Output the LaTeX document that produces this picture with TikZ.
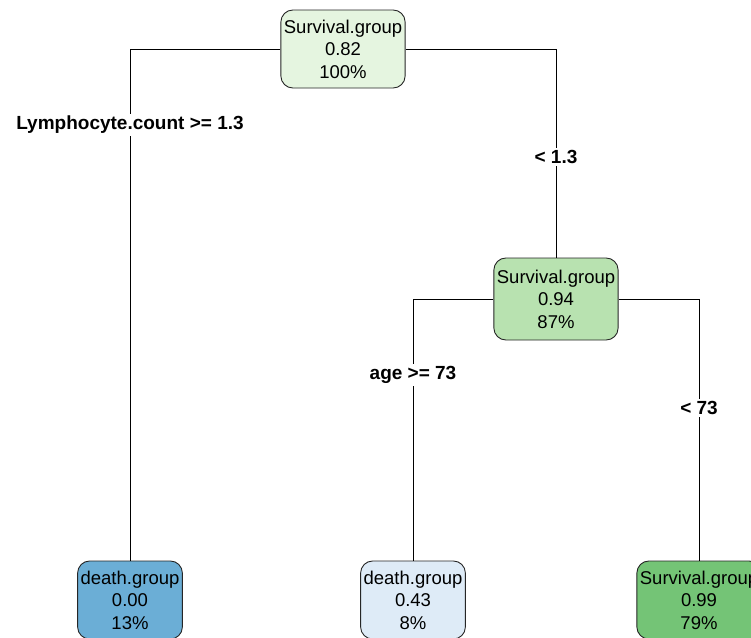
\documentclass[tikz,border=0pt]{standalone}
\usepackage{fontspec}
\setmainfont{Liberation Sans}
\usepackage{xcolor}
\usepackage{tikz}
\usetikzlibrary{shapes.geometric, positioning}
\definecolor{green1}{HTML}{E5F5E0}
\definecolor{green2}{HTML}{B8E2B0}
\definecolor{green3}{HTML}{74C476}
\definecolor{blue1}{HTML}{6BAED6}
\definecolor{blue2}{HTML}{DEEBF7}
\tikzstyle{treenode} = [rectangle, rounded corners=12pt, inner xsep=3pt, minimum height=78pt, align=center, draw=black!85, line width=0.9pt, font=\fontsize{18.5}{22.5}\selectfont]
\tikzstyle{splitlabel} = [fill=white, inner sep=2pt, font=\fontsize{19}{22}\selectfont\bfseries]
\tikzstyle{branch} = [line width=1pt, black]

\begin{document}
\begin{tikzpicture}[x=1pt, y=-1pt]
		\useasboundingbox (0,0) rectangle (751,637);
		\clip (0,0) rectangle (751,637);
		\fill [white] (0,0) rectangle (751,637);
		
		% Nodes for the splits
		\node (root) [treenode, fill=green1] at (343,49) {Survival.group\\0.82\\100\%};
		\node (agesplit) [treenode, fill=green2, minimum height=82pt] at (556,299) {Survival.group\\0.94\\87\%};
		
		% Nodes for the leaves
		\node (lymphleaf) [treenode, fill=blue1] at (130,600) {death.group\\0.00\\13\%};
		\node (oldleaf) [treenode, fill=blue2] at (413,600) {death.group\\0.43\\8\%};
		\node (youngleaf) [treenode, fill=green3] at (699,600) {Survival.group\\0.99\\79\%};
		
		% Branches
		\draw [branch] (root.west) -| (lymphleaf.north);
		\draw [branch] (root.east) -| (agesplit.north);
		\draw [branch] (agesplit.west) -| (oldleaf.north);
		\draw [branch] (agesplit.east) -| (youngleaf.north);
		
		% Labels
		\node (lymphhigh) [splitlabel] at (130,125) {Lymphocyte.count >= 1.3};
		\node (lymphlow) [splitlabel] at (556,157) {< 1.3};
		\node (agehigh) [splitlabel] at (413,375) {age >= 73};
		\node (agelow) [splitlabel] at (699,408) {< 73};
		
	\end{tikzpicture}
\end{document}
